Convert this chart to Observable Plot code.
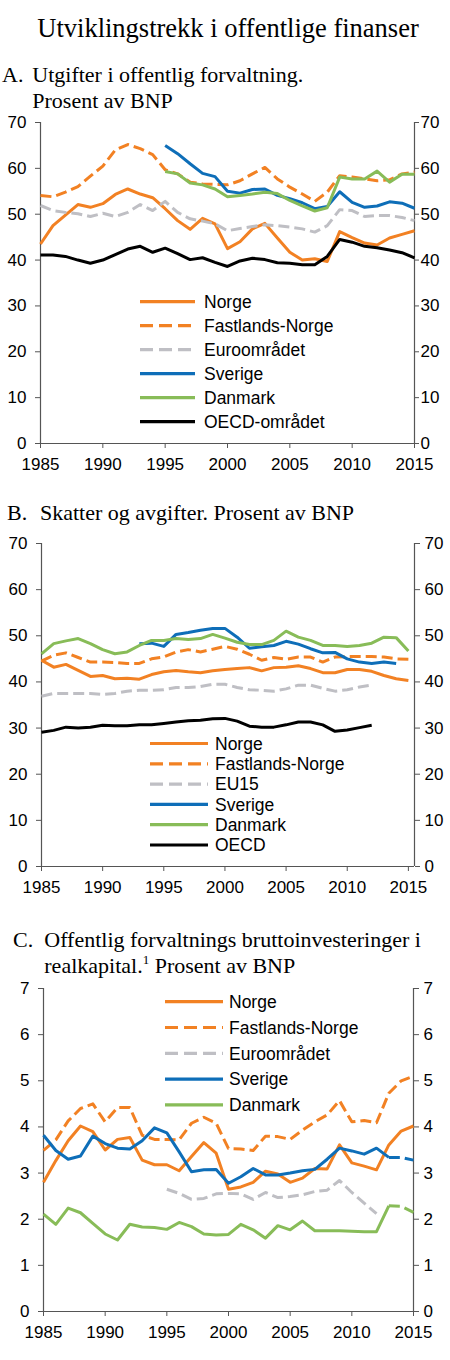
<!DOCTYPE html>
<html>
<head>
<meta charset="utf-8">
<script src="https://cdn.jsdelivr.net/npm/d3@7"></script>
<script src="https://cdn.jsdelivr.net/npm/@observablehq/plot@0.6"></script>
<style>
  html, body { margin: 0; padding: 0; background: #fff; }
  #page { position: relative; width: 450px; height: 1360px; overflow: hidden; }
  #page > svg.plot { position: absolute; left: 0; }
  #overlay { position: absolute; left: 0; top: 0; pointer-events: none; }
  .serif { font-family: "Liberation Serif", "Times New Roman", serif; fill: #000; }
  .sans { font-family: "Liberation Sans", Arial, sans-serif; fill: #000; }
</style>
</head>
<body>
<div id="page"></div>
<script>
// ---------- categories ----------
const years = [1985,1986,1987,1988,1989,1990,1991,1992,1993,1994,1995,1996,1997,1998,1999,2000,
               2001,2002,2003,2004,2005,2006,2007,2008,2009,2010,2011,2012,2013,2014,2015];
const xTicks = [1985,1990,1995,2000,2005,2010,2015];
const yTicksAB = [0,10,20,30,40,50,60,70];
const yTicksC = [0,1,2,3,4,5,6,7];

// ---------- Panel A: Utgifter i offentlig forvaltning (1985-) ----------
const norgeA     = [43.5,47.5,49.8,52.1,51.5,52.3,54.3,55.5,54.4,53.6,51.2,48.6,46.7,49.1,47.9,42.5,44.0,46.8,48.0,44.8,41.7,40.0,40.3,39.7,46.2,44.9,43.7,43.3,44.8,45.6,46.4];
const fastlandA  = [54.1,53.8,54.8,56.0,58.3,60.5,64.0,65.2,64.3,63.0,59.7,58.8,57.0,56.6,56.5,56.4,57.3,58.8,60.2,57.7,55.9,54.4,52.8,54.8,58.4,58.1,57.7,57.3,57.5,58.8,59.2];
const euroA      = [51.9,50.8,50.4,50.1,49.5,50.2,49.5,50.4,52.1,50.8,52.8,50.4,49.0,48.5,47.9,46.4,46.9,47.3,47.7,47.5,47.2,46.8,46.1,47.5,51.0,50.8,49.5,49.7,49.7,49.3,48.6];
const sverigeA   = [65.0,63.2,61.0,58.9,58.2,55.0,54.6,55.4,55.5,54.1,53.4,52.5,51.2,51.7,54.9,52.6,51.5,51.8,52.7,52.4,51.3]; // from 1995
const danmarkA   = [59.3,58.8,56.8,56.4,55.5,53.8,54.1,54.4,54.8,54.5,53.0,51.8,50.7,51.4,58.1,57.7,57.7,59.4,57.0,58.7,58.7]; // from 1995
const oecdA      = [41.1,41.1,40.8,40.0,39.3,40.0,41.2,42.4,43.0,41.7,42.6,41.4,40.1,40.5,39.5,38.6,39.8,40.4,40.1,39.4,39.3,39.0,39.0,40.8,44.5,43.9,43.0,42.7,42.2,41.6,40.5];

// ---------- Panel B: Skatter og avgifter ----------
const norgeB     = [44.7,43.2,43.8,42.5,41.2,41.4,40.7,40.8,40.6,41.6,42.2,42.5,42.2,42.0,42.4,42.7,42.9,43.1,42.4,43.1,43.2,43.5,42.9,42.0,42.0,42.7,42.7,42.3,41.4,40.7,40.3];
const fastlandB  = [44.5,45.8,46.3,45.3,44.3,44.3,44.2,44.0,44.0,45.0,45.4,46.5,47.0,46.5,47.1,47.7,47.1,46.0,44.7,45.3,44.9,45.4,45.4,44.3,45.4,45.5,45.5,45.5,45.4,45.0,44.9];
const eu15B      = [36.9,37.5,37.5,37.5,37.5,37.3,37.5,38.0,38.2,38.2,38.3,38.8,38.8,39.0,39.5,39.5,38.8,38.3,38.2,38.0,38.5,39.3,39.3,38.6,38.0,38.3,38.9,39.3]; // to 2012
const sverigeB   = [48.3,48.4,47.7,50.3,50.7,51.2,51.6,51.6,49.7,47.3,47.6,47.9,48.8,48.2,47.2,46.3,46.4,45.0,44.3,44.0,44.3,44.0]; // 1993-2014
const danmarkB   = [46.1,48.3,48.9,49.4,48.3,47.0,46.1,46.5,47.9,49.0,49.0,49.4,49.2,49.4,50.3,49.5,48.6,48.1,48.1,49.0,51.0,49.7,49.0,47.9,47.9,47.7,47.9,48.4,49.7,49.6,46.7];
const oecdB      = [29.1,29.5,30.2,30.0,30.2,30.6,30.5,30.5,30.7,30.7,31.0,31.3,31.6,31.7,32.0,32.1,31.5,30.4,30.2,30.2,30.7,31.3,31.3,30.7,29.3,29.6,30.1,30.6]; // to 2012

// ---------- Panel C: Bruttoinvesteringer i realkapital ----------
const norgeC     = [2.80,3.27,3.70,4.02,3.90,3.50,3.73,3.77,3.28,3.18,3.18,3.05,3.36,3.66,3.43,2.65,2.70,2.80,3.04,2.98,2.80,2.89,3.10,3.09,3.61,3.22,3.15,3.07,3.61,3.91,4.02];
const fastlandC  = [3.49,3.72,4.13,4.40,4.50,4.11,4.42,4.42,3.82,3.73,3.73,3.72,4.08,4.21,4.08,3.53,3.52,3.49,3.80,3.79,3.73,3.93,4.11,4.26,4.57,4.11,4.14,4.09,4.73,5.00,5.10];
const euroC      = [2.65,2.56,2.43,2.45,2.55,2.56,2.55,2.43,2.58,2.47,2.49,2.53,2.60,2.63,2.84,2.58,2.35,2.12]; // 1995-2012
const sverigeC   = [3.82,3.49,3.30,3.37,3.80,3.64,3.54,3.52,3.70,3.98,3.87,3.46,3.03,3.07,3.08,2.78,2.92,3.10,2.96,2.96,3.00,3.05,3.08,3.30,3.54,3.48,3.41,3.54,3.34]; // 1985-2013
const sverigeCProj = [3.34,3.34,3.28]; // 2013-2015
const danmarkC   = [2.11,1.89,2.24,2.14,1.91,1.68,1.55,1.89,1.83,1.82,1.78,1.93,1.84,1.68,1.66,1.67,1.89,1.77,1.59,1.86,1.77,1.96,1.75,1.75,1.75,1.74,1.73,1.73,2.29]; // 1985-2013
const danmarkCProj = [2.29,2.28,2.15]; // 2013-2015

// ---------- styles ----------
const ORANGE = "#F28123", GRAY = "#BFBFC4", BLUE = "#0E6EB8", GREEN = "#88BC58", BLACK = "#000000";
const DASH = "11,5";
const AXIS = "#555555";
const TICK_FONT = 17;

function seriesData(start, values) {
  const i0 = years.indexOf(start);
  return values.map((v, i) => ({year: years[i0 + i], value: v}));
}

const panels = [
  {
    top: 100, height: 378, marginLeft: 40, marginRight: 36, xDomain: [1985, 2015], yDomain: [0, 70], yTicks: yTicksAB,
    rightPad: 2, rightTick: 4,
    legend: {x1: 140, x2: 195, tx: 204, y0: 301.7, step: 24},
    series: [
      {name: "Norge", color: ORANGE, start: 1985, values: norgeA},
      {name: "Fastlands-Norge", color: ORANGE, dash: DASH, start: 1985, values: fastlandA},
      {name: "Euroområdet", color: GRAY, dash: DASH, start: 1985, values: euroA},
      {name: "Sverige", color: BLUE, start: 1995, values: sverigeA},
      {name: "Danmark", color: GREEN, start: 1995, values: danmarkA},
      {name: "OECD-området", color: BLACK, start: 1985, values: oecdA}
    ]
  },
  {
    top: 521, height: 380, marginLeft: 41, marginRight: 36, xDomain: [1985, 2015.5], yDomain: [0, 70], yTicks: yTicksAB,
    rightPad: 5, rightTick: 5,
    legend: {x1: 150, x2: 208, tx: 215, y0: 743.5, step: 20.3},
    series: [
      {name: "Norge", color: ORANGE, start: 1985, values: norgeB},
      {name: "Fastlands-Norge", color: ORANGE, dash: DASH, start: 1985, values: fastlandB},
      {name: "EU15", color: GRAY, dash: DASH, start: 1985, values: eu15B},
      {name: "Sverige", color: BLUE, start: 1993, values: sverigeB},
      {name: "Danmark", color: GREEN, start: 1985, values: danmarkB},
      {name: "OECD", color: BLACK, start: 1985, values: oecdB}
    ]
  },
  {
    top: 966, height: 380, marginLeft: 43, marginRight: 37, xDomain: [1985, 2015], yDomain: [0, 7], yTicks: yTicksC,
    rightPad: 5, rightTick: 5,
    legend: {x1: 165, x2: 223, tx: 229, y0: 1001.7, step: 25.8},
    series: [
      {name: "Norge", color: ORANGE, start: 1985, values: norgeC},
      {name: "Fastlands-Norge", color: ORANGE, dash: DASH, start: 1985, values: fastlandC},
      {name: "Euroområdet", color: GRAY, dash: DASH, start: 1995, values: euroC},
      {name: "Sverige", color: BLUE, start: 1985, values: sverigeC},
      {name: "Danmark", color: GREEN, start: 1985, values: danmarkC},
      {name: null, color: BLUE, dash: DASH, start: 2013, values: sverigeCProj},
      {name: null, color: GREEN, dash: DASH, start: 2013, values: danmarkCProj}
    ]
  }
];

const page = document.getElementById("page");

for (const p of panels) {
  const lineMarks = p.series.map(s => Plot.line(seriesData(s.start, s.values), {
    x: "year", y: "value", stroke: s.color, strokeWidth: 3,
    strokeDasharray: s.dash || null, strokeLinejoin: "round", strokeLinecap: "butt"
  }));
  const chart = Plot.plot({
    width: 450, height: p.height,
    marginLeft: p.marginLeft, marginRight: p.marginRight, marginTop: 22, marginBottom: 35,
    x: {domain: p.xDomain},
    y: {domain: p.yDomain},
    style: {fontFamily: '"Liberation Sans", Arial, sans-serif', fontSize: TICK_FONT + "px", color: "#000", background: "transparent", overflow: "visible"},
    marks: [
      Plot.axisY({anchor: "left", ticks: p.yTicks, tickFormat: d => String(d), tickSize: 5, tickPadding: 9, label: null, stroke: AXIS, fill: "#000", fontSize: TICK_FONT}),
      Plot.axisY({anchor: "right", ticks: p.yTicks, tickFormat: d => String(d), tickSize: p.rightTick, tickPadding: p.rightPad, label: null, stroke: AXIS, fill: "#000", fontSize: TICK_FONT}),
      Plot.axisX({ticks: xTicks, tickFormat: d => String(d), tickSize: 5, tickPadding: 9, label: null, stroke: AXIS, fill: "#000", fontSize: TICK_FONT}),
      Plot.ruleX(p.xDomain, {stroke: AXIS, strokeWidth: 1.2}),
      Plot.ruleY([p.yDomain[0]], {stroke: AXIS, strokeWidth: 1.2}),
      ...lineMarks
    ]
  });
  chart.classList.add("plot");
  chart.style.top = p.top + "px";
  page.appendChild(chart);
}

// ---------- overlay: titles and legends ----------
const ns = "http://www.w3.org/2000/svg";
const ov = document.createElementNS(ns, "svg");
ov.setAttribute("id", "overlay");
ov.setAttribute("width", 450);
ov.setAttribute("height", 1360);
page.appendChild(ov);

function text(x, y, str, cls, size, anchor) {
  const t = document.createElementNS(ns, "text");
  t.setAttribute("x", x); t.setAttribute("y", y);
  t.setAttribute("class", cls);
  t.setAttribute("font-size", size);
  if (anchor) t.setAttribute("text-anchor", anchor);
  t.textContent = str;
  ov.appendChild(t);
  return t;
}

text(228, 36.7, "Utviklingstrekk i offentlige finanser", "serif", 26.5, "middle");

text(2, 81.7, "A.", "serif", 22);
text(32.3, 81.7, "Utgifter i offentlig forvaltning.", "serif", 22);
text(32.3, 108.3, "Prosent av BNP", "serif", 22);

text(7, 520, "B.", "serif", 22);
text(40, 520, "Skatter og avgifter. Prosent av BNP", "serif", 22);

text(13, 946.7, "C.", "serif", 22);
text(44.3, 946.7, "Offentlig forvaltnings bruttoinvesteringer i", "serif", 22);
const c2 = text(44.3, 972.7, "realkapital.", "serif", 22);
const sup = document.createElementNS(ns, "tspan");
sup.setAttribute("font-size", 13); sup.setAttribute("dy", -9);
sup.textContent = "1";
c2.appendChild(sup);
const rest = document.createElementNS(ns, "tspan");
rest.setAttribute("dy", 9);
rest.textContent = " Prosent av BNP";
c2.appendChild(rest);

for (const p of panels) {
  const L = p.legend;
  p.series.filter(s => s.name).forEach((s, i) => {
    const y = L.y0 + i * L.step;
    const ln = document.createElementNS(ns, "line");
    ln.setAttribute("x1", L.x1); ln.setAttribute("x2", L.x2);
    ln.setAttribute("y1", y); ln.setAttribute("y2", y);
    ln.setAttribute("stroke", s.color); ln.setAttribute("stroke-width", 3.2);
    if (s.dash) ln.setAttribute("stroke-dasharray", "13,6");
    ov.appendChild(ln);
    const t = text(L.tx, y, s.name, "sans", 17.5);
    t.setAttribute("dy", "0.36em");
  });
}
</script>
</body>
</html>
